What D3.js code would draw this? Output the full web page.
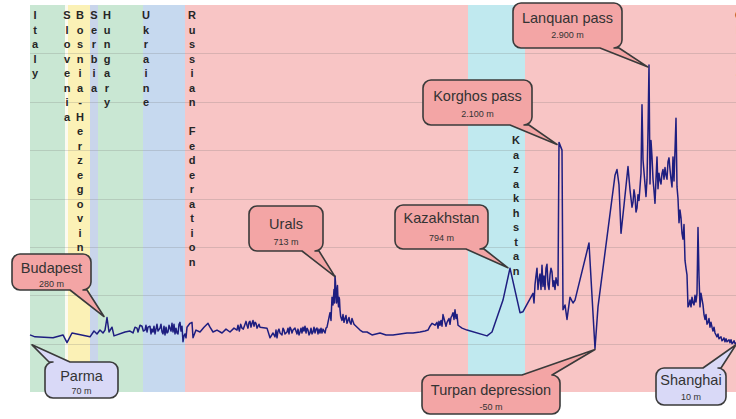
<!DOCTYPE html>
<html>
<head>
<meta charset="utf-8">
<script src="https://cdn.jsdelivr.net/npm/d3@7"></script>
<style>
  html, body { margin: 0; padding: 0; background: #ffffff; }
  svg { display: block; }
</style>
</head>
<body>
<svg id="chart" width="736" height="419"></svg>
<script>
// ---------------- DATA ----------------
// Route profile Parma -> Shanghai: distance along route (km) and elevation (m)
const distanceKm = [
  0, 75, 345, 495, 555, 630, 900, 960, 1005, 1050, 1095, 1125, 1155, 1185, 1230, 1260,
  1425, 1605, 1680, 1725, 1770, 1845, 1890, 1950, 1995, 2055, 2100, 2130, 2175, 2205,
  2250, 2295, 2325, 2355, 2400, 2430, 2445, 2490, 2550, 2610, 2670, 2700, 2745, 2805,
  2880, 2940, 3000, 3060, 3105, 3180, 3225, 3255, 3300, 3330, 3375, 3420, 3450, 3555,
  3600, 3645, 3675, 3720, 3750, 3810, 3855, 3900, 3945, 4005, 4050, 4095, 4155, 4200,
  4245, 4305, 4350, 4410, 4455, 4500, 4515, 4530, 4545, 4575, 4590, 4605, 4620, 4635,
  4650, 4680, 4725, 4770, 4800, 4830, 4875, 4950, 4995, 5055, 5130, 5250, 5340, 5445,
  5550, 5655, 5745, 5850, 5925, 5970, 6000, 6030, 6075, 6105, 6150, 6195, 6225, 6255,
  6285, 6315, 6345, 6375, 6390, 6420, 6480, 6555, 6855, 6930, 7095, 7200, 7350, 7395,
  7545, 7575, 7605, 7635, 7680, 7695, 7740, 7770, 7800, 7830, 7845, 7905, 7935, 7980,
  7995, 8025, 8055, 8100, 8145, 8175, 8385, 8475, 8520, 8775, 8805, 8835, 8865, 8910,
  8970, 9000, 9030, 9060, 9090, 9135, 9180, 9195, 9240, 9285, 9330, 9375, 9405, 9450,
  9495, 9540, 9570, 9600, 9630, 9645, 9690, 9705, 9750, 9780, 9810, 9825, 9855, 9870,
  9900, 9945, 10005, 10020, 10065, 10095, 10125, 10170, 10230, 10275, 10305, 10350,
  10395, 10470, 10545, 10590
];
const elevationM = [
  90, 70, 60, 90, 10, 110, 70, 130, 100, 140, 110, 140, 270, 120, 170, 80,
  120, 160, 180, 140, 170, 120, 150, 160, 100, 110, 160, 210, 100, 110,
  220, 20, 100, 170, 210, 220, 60, 140, 120, 170, 210, 170, 120, 140,
  110, 150, 120, 160, 140, 160, 200, 190, 230, 210, 220, 180, 170, 160,
  60, 110, 70, 130, 110, 140, 120, 170, 140, 100, 120, 170, 160, 110,
  120, 160, 110, 130, 170, 320, 240, 480, 400, 700, 500, 550, 450, 480,
  350, 240, 260, 240, 220, 260, 190, 140, 120, 120, 90, 110, 90, 90,
  100, 110, 110, 120, 130, 140, 180, 210, 190, 220, 190, 300, 220, 220,
  260, 270, 320, 350, 260, 190, 160, 140, 80, 120, 450, 780, 320, 330,
  520, 610, 780, 660, 810, 590, 780, 610, 710, 740, 590, 630, 2080, 2000,
  350, 400, 250, 480, 420, 450, 1040, -50, 380, 1740, 1800, 1640, 1140, 1430,
  1830, 1590, 1410, 1590, 1360, 1480, 2470, 1900, 1520, 2880, 1930, 1450, 1930, 1690,
  1800, 1740, 1880, 1800, 1620, 1930, 2330, 1620, 1380, 1140, 1230, 860, 710, 380,
  450, 420, 520, 1200, 520, 400, 250, 220, 170, 110, 70, 60,
  40, 30, 10, 10
];
// extra readings in the jagged stretches of the profile
const detailKm = [
  1500, 1545, 1575, 1620, 1650, 1700, 1740, 1755, 1800, 1815, 1830, 1860, 1875, 1905,
  1920, 1965, 1980, 2010, 2025, 2040, 2070, 2085, 2115, 2145, 2160, 2190, 2220, 2235,
  2265, 2280, 2310, 2340,
  3120, 3140, 3160, 3200, 3240, 3270, 3285, 3315, 3345, 3360, 3390, 3405, 3435,
  3690, 3705, 3735, 3780, 3795, 3825, 3870, 3885, 3915, 3930, 3975, 4020, 4035, 4065,
  4080, 4110, 4125, 4140, 4170, 4185, 4215, 4230, 4260, 4275, 4290, 4320, 4335, 4365,
  4380, 4395, 4425, 4440,
  4560, 4568, 4582, 4598, 4612, 4628, 4642, 4660, 4695, 4710, 4740, 4755, 4785, 4815,
  4845, 4860,
  6120, 6135, 6165, 6180, 6210, 6240, 6270, 6300, 6330, 6360, 6405,
  7560, 7590, 7620, 7650, 7665, 7710, 7725, 7755, 7785, 7815, 7860, 7875, 7890, 7920,
  9015, 9045, 9075, 9105, 9120, 9150, 9165, 9255, 9270, 9300, 9315, 9345, 9360, 9390,
  9420, 9435, 9465, 9480, 9510, 9525, 9555, 9585, 9615, 9660, 9675,
  9720, 9735, 9765, 9795, 9840, 9885, 9915, 9930, 9960, 9975, 9990, 10035, 10050, 10080,
  10110, 10140, 10155, 10185, 10200, 10215, 10245, 10260, 10290, 10320, 10335, 10365,
  10380, 10410, 10425, 10440, 10455, 10485, 10500, 10515, 10530, 10560, 10575
];
const detailElevM = [
  130, 110, 170, 120, 190, 130, 190, 120, 180, 100, 150, 180, 100, 200,
  130, 200, 120, 180, 90, 170, 120, 190, 130, 120, 200, 160, 100, 200,
  130, 180, 80, 60,
  190, 130, 200, 150, 230, 160, 220, 170, 240, 180, 210, 160, 200,
  140, 60, 150, 90, 160, 100, 160, 100, 150, 110, 160, 150, 90, 160,
  110, 130, 180, 110, 140, 90, 160, 100, 170, 110, 150, 100, 150, 160,
  110, 150, 110, 160,
  560, 420, 640, 420, 600, 380, 460, 280, 300, 220, 290, 210, 270, 200,
  230, 200,
  160, 230, 240, 180, 260, 180, 240, 200, 290, 250, 300,
  420, 700, 560, 720, 560, 700, 560, 820, 560, 780, 650, 560, 680, 600,
  1500, 1460, 1520, 1400, 1540, 1620, 1760, 1700, 2200, 1650, 2100, 1700, 1580, 1700,
  1600, 1760, 1650, 1760, 1700, 1820, 1700, 1920, 1700, 1680, 2000,
  1500, 1250, 1300, 1080, 780, 400, 380, 480, 400, 500, 430, 700, 380, 460,
  300, 300, 200, 260, 170, 220, 130, 170, 90, 100, 50, 70,
  30, 60, 20, 50, 20, 40, 10, 40, 0, 30, 0
];

// Countries crossed (km ranges along the route)
const countryNames = ["Italy", "Slovenia", "Bosnia-Herzegovina", "Serbia", "Hungary",
                      "Ukraine", "Russian Federation", "Kazakhstan", "China"];
const countryStartKm = [0, 525, 570, 900, 1020, 1695, 2325, 6570, 7425];
const countryEndKm   = [525, 570, 900, 1020, 1695, 2325, 6570, 7425, 10700];

// Named points along the route
const placeNames  = ["Budapest", "Parma", "Urals", "Kazakhstan", "Korghos pass",
                     "Lanquan pass", "Turpan depression", "Shanghai"];
const placeLabels = ["280 m", "70 m", "713 m", "794 m", "2.100 m", "2.900 m", "-50 m", "10 m"];
const placeKm     = [1140, 30, 4575, 7170, 7905, 9270, 8475, 10590];
const placeElevM  = [280, 70, 713, 794, 2100, 2900, -50, 10];

const gridElevations = [0, 500, 1000, 1500, 2000, 2500, 3000];

// ---------------- STYLE / LAYOUT ----------------
const countryColors = ["#c9e7d3", "#fbfaf0", "#fbf1b6", "#c9d5eb", "#c9e7d3",
                       "#c6d9ef", "#f8c5c5", "#c0e9ef", "#f8c5c5"];
const countryLabelX  = [35, 67, 80, 94, 107, 146, 192, 516, 739];
const countryLabelY0 = [15, 15, 15, 15, 15, 15, 15, 140, 15];
const calloutFill = ["#f3a5a5", "#d9d9f7", "#f3a5a5", "#f3a5a5", "#f3a5a5",
                     "#f3a5a5", "#f3a5a5", "#d9d9f7"];
const calloutBox = [
  {x: 12,  y: 254, w: 79,  h: 36, side: "bottom", b1: 70,  b2: 87,  ty: 273, vy: 287, dx: -2, dy: 0},
  {x: 45,  y: 362, w: 73,  h: 36, side: "top",    b1: 49,  b2: 70,  ty: 381, vy: 394, dx: 0,  dy: 8},
  {x: 249, y: 206, w: 74,  h: 45, side: "bottom", b1: 302, b2: 319, ty: 229, vy: 245, dx: 0,  dy: 2},
  {x: 395, y: 205, w: 93,  h: 44, side: "bottom", b1: 466, b2: 484, ty: 223, vy: 241, dx: 0,  dy: 1},
  {x: 423, y: 80,  w: 109, h: 45, side: "bottom", b1: 510, b2: 529, ty: 101, vy: 117, dx: 0,  dy: 4},
  {x: 513, y: 3,   w: 109, h: 45, side: "bottom", b1: 600, b2: 619, ty: 23,  vy: 38,  dx: 0,  dy: 4},
  {x: 422, y: 375, w: 138, h: 39, side: "top",    b1: 522, b2: 552, ty: 395, vy: 410, dx: 0,  dy: 1},
  {x: 656, y: 368, w: 70,  h: 37, side: "top",    b1: 703, b2: 721, ty: 385, vy: 400, dx: 0,  dy: 2}
];

// ---------------- CHART ----------------
const svg = d3.select("#chart");
const x = d3.scaleLinear().domain([0, 10590]).range([30, 736]);
const y = d3.scaleLinear().domain([-500, 3500]).range([392, 5]);

// country bands
svg.append("g").selectAll("rect")
  .data(countryNames)
  .join("rect")
  .attr("x", (d, i) => x(countryStartKm[i]))
  .attr("y", y(3500))
  .attr("width", (d, i) => x(countryEndKm[i]) - x(countryStartKm[i]))
  .attr("height", y(-500) - y(3500))
  .attr("fill", (d, i) => countryColors[i]);

// grid lines
svg.append("g").selectAll("line")
  .data(gridElevations)
  .join("line")
  .attr("x1", x(0)).attr("x2", 736)
  .attr("y1", d => Math.round(y(d)) + 0.5)
  .attr("y2", d => Math.round(y(d)) + 0.5)
  .attr("stroke", "rgba(110,110,110,0.22)")
  .attr("stroke-width", 1);

// vertical country labels
const labG = svg.append("g")
  .attr("font-family", "'Liberation Sans', Arial, sans-serif")
  .attr("font-weight", "bold")
  .attr("font-size", 11)
  .attr("fill", "#262626")
  .attr("text-anchor", "middle");
countryNames.forEach((name, i) => {
  const chars = Array.from(name);
  labG.selectAll(null)
    .data(chars)
    .join("text")
    .attr("x", countryLabelX[i])
    .attr("y", (c, k) => countryLabelY0[i] + 4 + k * 14.5)
    .text(c => c);
});

// elevation line (main readings + detail readings, ordered by distance)
const pts = distanceKm.map((d, i) => [d, elevationM[i]])
  .concat(detailKm.map((d, i) => [d, detailElevM[i]]))
  .sort((a, b) => a[0] - b[0]);
svg.append("path")
  .datum(pts)
  .attr("fill", "none")
  .attr("stroke", "#1e1e80")
  .attr("stroke-width", 1.5)
  .attr("stroke-linejoin", "round")
  .attr("d", d3.line().x(d => x(d[0])).y(d => y(d[1])));

// callouts
function calloutPath(b, tx, ty) {
  const r = 8, x0 = b.x, y0 = b.y, x1 = b.x + b.w, y1 = b.y + b.h;
  const p = d3.path();
  p.moveTo(x0 + r, y0);
  if (b.side === "top") { p.lineTo(b.b1, y0); p.lineTo(tx, ty); p.lineTo(b.b2, y0); }
  p.lineTo(x1 - r, y0);
  p.arcTo(x1, y0, x1, y0 + r, r);
  p.lineTo(x1, y1 - r);
  p.arcTo(x1, y1, x1 - r, y1, r);
  if (b.side === "bottom") { p.lineTo(b.b2, y1); p.lineTo(tx, ty); p.lineTo(b.b1, y1); }
  p.lineTo(x0 + r, y1);
  p.arcTo(x0, y1, x0, y1 - r, r);
  p.lineTo(x0, y0 + r);
  p.arcTo(x0, y0, x0 + r, y0, r);
  p.closePath();
  return p.toString();
}
const cg = svg.append("g");
placeNames.forEach((name, i) => {
  const b = calloutBox[i];
  const tx = x(placeKm[i]) + b.dx, ty = y(placeElevM[i]) + b.dy;
  cg.append("path")
    .attr("d", calloutPath(b, tx, ty))
    .attr("fill", calloutFill[i])
    .attr("stroke", "#3a3a3a")
    .attr("stroke-width", 1.6)
    .attr("stroke-linejoin", "round");
  cg.append("text")
    .attr("x", b.x + b.w / 2).attr("y", b.ty)
    .attr("text-anchor", "middle")
    .attr("font-family", "'Liberation Sans', Arial, sans-serif")
    .attr("font-size", 14.5)
    .attr("fill", "#333")
    .text(name);
  cg.append("text")
    .attr("x", b.x + b.w / 2).attr("y", b.vy)
    .attr("text-anchor", "middle")
    .attr("font-family", "'Liberation Sans', Arial, sans-serif")
    .attr("font-size", 9)
    .attr("fill", "#333")
    .text(placeLabels[i]);
});
</script>
</body>
</html>
